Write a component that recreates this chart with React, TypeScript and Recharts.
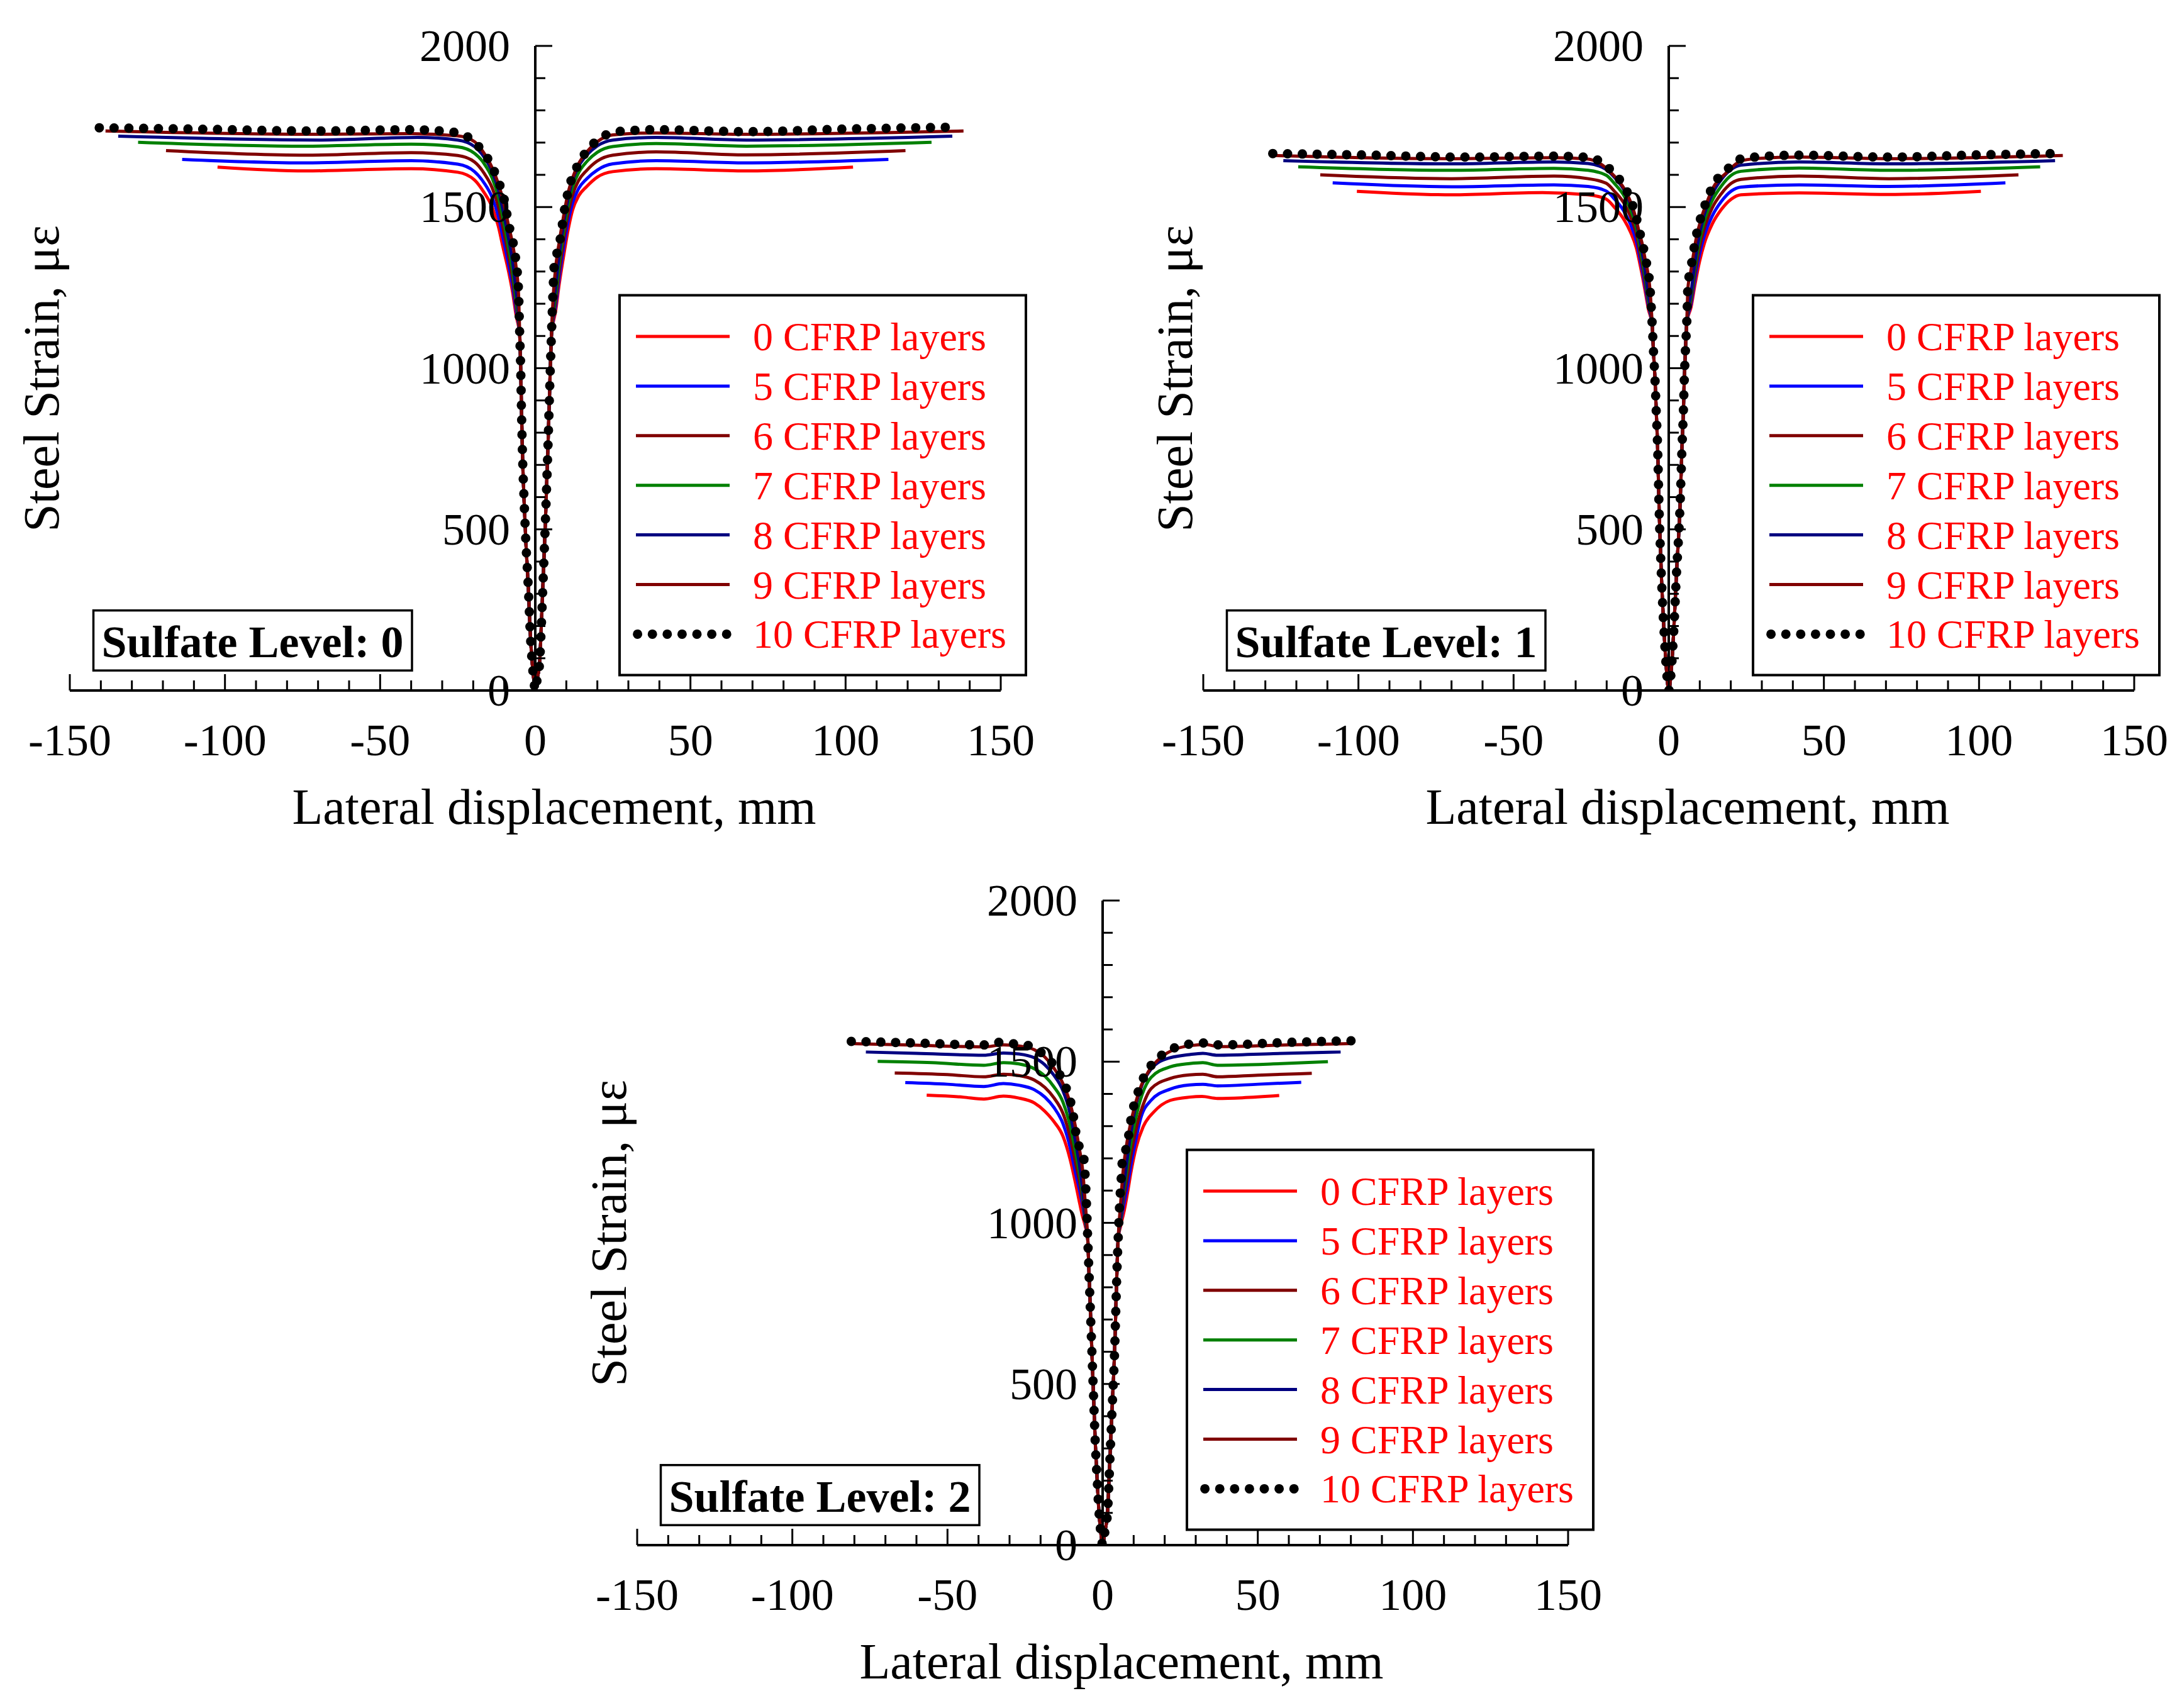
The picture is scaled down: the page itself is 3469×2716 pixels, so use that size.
import { Line, LineChart, ReferenceLine, XAxis, YAxis } from 'recharts'

type Pt = [number, number]

const FONT = "'Liberation Serif', 'Times New Roman', serif"

const LAYERS = ['0', '5', '6', '7', '8', '9', '10']
const LAYER_COLORS = ['#ff0000', '#0000ff', '#800000', '#008000', '#000080', '#800000', '#000000']

const X_TICKS = [
  -150, -140, -130, -120, -110, -100, -90, -80, -70, -60, -50, -40, -30, -20, -10, 0,
  10, 20, 30, 40, 50, 60, 70, 80, 90, 100, 110, 120, 130, 140, 150
]
const Y_TICKS = [
  0, 100, 200, 300, 400, 500, 600, 700, 800, 900, 1000, 1100, 1200, 1300, 1400, 1500,
  1600, 1700, 1800, 1900, 2000
]

// ---- Sulfate level 0 ----
const SL0_STEEP: Pt[] = [
  [-5.0, 1100], [-4.7, 1000], [-4.45, 870], [-4.1, 725], [-3.6, 590], [-3.0, 455], [-2.2, 310],
  [-1.6, 176], [-1.0, 86], [-0.5, 35], [0, 0], [0.6, 35], [1.4, 86], [1.9, 190], [2.4, 310],
  [3.3, 535], [4.1, 760], [4.8, 985], [5.2, 1100]
]
const SL0_L0: Pt[] = [
  [-102.4, 1624], [-74, 1612], [-40, 1619], [-25, 1608], [-19.6, 1584], [-16.5, 1545], [-13.9, 1500],
  [-11.9, 1440], [-10.4, 1375], [-8.6, 1300], [-7.3, 1235], [-6.2, 1165],
  [6.6, 1180], [7.7, 1260], [9, 1340], [10.6, 1430], [12, 1490], [14, 1535], [16.5, 1563],
  [20, 1593], [25, 1610], [39, 1619], [68, 1612], [102.4, 1624]
]
const SL0_L5: Pt[] = [
  [-113.8, 1648], [-74, 1637], [-40, 1644], [-25, 1633], [-19.6, 1610], [-16.5, 1575], [-13.9, 1530],
  [-11.9, 1472], [-10.4, 1405], [-8.6, 1322], [-7.3, 1255], [-6.2, 1180],
  [6.6, 1195], [7.7, 1280], [9, 1365], [10.6, 1455], [12, 1512], [14, 1558], [16.5, 1587],
  [20, 1615], [25, 1634], [39, 1644], [68, 1637], [113.8, 1648]
]
const SL0_L6: Pt[] = [
  [-119, 1675], [-74, 1661], [-40, 1669], [-25, 1660], [-19.6, 1640], [-16.5, 1605], [-13.9, 1560],
  [-11.9, 1502], [-10.4, 1435], [-8.6, 1348], [-7.3, 1278], [-6.2, 1195],
  [6.6, 1210], [7.7, 1300], [9, 1390], [10.6, 1480], [12, 1537], [14, 1583], [16.5, 1613],
  [20, 1643], [25, 1661], [39, 1671], [68, 1662], [119.3, 1675]
]
const SL0_L7: Pt[] = [
  [-128, 1701], [-74, 1689], [-40, 1695], [-25, 1687], [-19.6, 1667], [-16.5, 1635], [-13.9, 1590],
  [-11.9, 1532], [-10.4, 1465], [-8.6, 1375], [-7.3, 1302], [-6.2, 1212],
  [6.6, 1228], [7.7, 1325], [9, 1415], [10.6, 1505], [12, 1562], [14, 1607], [16.5, 1640],
  [20, 1670], [25, 1688], [39, 1697], [68, 1689], [127.7, 1701]
]
const SL0_L8: Pt[] = [
  [-134.4, 1720], [-69, 1708], [-38, 1716], [-25, 1708], [-19.6, 1688], [-16.5, 1655], [-13.9, 1610],
  [-11.9, 1555], [-10.4, 1490], [-8.6, 1402], [-7.3, 1330], [-6.2, 1240],
  [6.6, 1255], [7.7, 1350], [9, 1440], [10.6, 1527], [12, 1582], [14, 1627], [16.5, 1660],
  [20, 1690], [25, 1708], [39, 1716], [68, 1708], [134.4, 1720]
]
const SL0_L9: Pt[] = [
  [-138.5, 1736], [-70, 1726], [-40, 1728], [-25, 1721], [-19.6, 1703], [-16.5, 1667], [-13.9, 1622],
  [-11.9, 1572], [-10.4, 1522], [-8.6, 1442], [-7.3, 1385], [-6.2, 1315], [-5.4, 1230],
  [5.8, 1225], [6.6, 1315], [7.7, 1390], [9, 1465], [10.6, 1545], [12, 1590], [14, 1635],
  [16.5, 1670], [20, 1703], [25, 1724], [39, 1730], [68, 1726], [138, 1736]
]
const SL0_L10: Pt[] = [
  [-140.5, 1746], [-110, 1742], [-70, 1736], [-40, 1740], [-26, 1732], [-21.5, 1716], [-17, 1673],
  [-14, 1628], [-12, 1581], [-10.3, 1536], [-9.4, 1493], [-8.6, 1448], [-7.3, 1398], [-6.2, 1330],
  [-5.4, 1240],
  [5.7, 1235], [6.1, 1319], [6.9, 1353], [8.0, 1399], [8.7, 1444], [9.4, 1491], [10.3, 1536],
  [11.5, 1581], [13.6, 1628], [16.7, 1675], [21.3, 1716], [27.3, 1735], [39, 1740], [68.4, 1734],
  [100, 1742], [135.6, 1748]
]

// ---- Sulfate level 1 ----
const SL1_STEEP: Pt[] = [
  [-5.3, 1130], [-4.9, 1050], [-4.4, 960], [-4.0, 860], [-3.6, 761], [-3.1, 562], [-2.4, 363],
  [-1.4, 164], [-0.7, 60], [0, 0], [0.8, 60], [1.5, 164], [2.5, 363], [3.6, 562], [4.3, 761],
  [4.7, 860], [5.0, 960], [5.4, 1060], [5.8, 1140]
]
const SL1_L0: Pt[] = [
  [-100.5, 1549], [-70, 1538], [-40.7, 1545], [-26, 1538], [-20.2, 1525], [-17.4, 1498], [-14.3, 1459],
  [-12.3, 1422], [-10.4, 1372], [-9, 1310], [-7.7, 1245], [-6.6, 1185],
  [7.2, 1190], [8.5, 1262], [9.9, 1330], [11.5, 1388], [14, 1447], [17, 1493], [20.2, 1525],
  [23.3, 1538], [42, 1544], [70.9, 1539], [100.6, 1549]
]
const SL1_L5: Pt[] = [
  [-108.3, 1575], [-70, 1563], [-37, 1569], [-26, 1564], [-20.2, 1550], [-17.4, 1524], [-14.3, 1485],
  [-12.3, 1446], [-10.4, 1393], [-9, 1328], [-7.7, 1260], [-6.6, 1195],
  [7.2, 1200], [8.5, 1280], [9.9, 1352], [11.5, 1412], [14, 1472], [17, 1518], [20.2, 1550],
  [23.3, 1562], [42, 1569], [70.9, 1564], [108.5, 1575]
]
const SL1_L6: Pt[] = [
  [-112.3, 1600], [-70, 1588], [-37, 1596], [-26, 1588], [-20.2, 1574], [-17.4, 1548], [-14.3, 1510],
  [-12.3, 1470], [-10.4, 1414], [-9, 1345], [-7.7, 1275], [-6.6, 1205],
  [7.2, 1210], [8.5, 1297], [9.9, 1373], [11.5, 1435], [14, 1497], [17, 1542], [20.2, 1574],
  [23.3, 1586], [42, 1596], [70.9, 1588], [112.7, 1600]
]
const SL1_L7: Pt[] = [
  [-119.4, 1625], [-70, 1614], [-37, 1620], [-26, 1614], [-20.2, 1599], [-17.4, 1572], [-14.3, 1533],
  [-12.3, 1492], [-10.4, 1434], [-9, 1363], [-7.7, 1290], [-6.6, 1215],
  [7.2, 1222], [8.5, 1315], [9.9, 1395], [11.5, 1458], [14, 1520], [17, 1566], [20.2, 1599],
  [23.3, 1611], [42, 1621], [70.9, 1614], [119.7, 1625]
]
const SL1_L8: Pt[] = [
  [-124.2, 1644], [-70, 1634], [-37, 1640], [-26, 1635], [-20.2, 1617], [-17.4, 1591], [-14.3, 1551],
  [-12.3, 1508], [-10.4, 1452], [-9, 1383], [-7.7, 1308], [-6.6, 1228],
  [7.2, 1235], [8.5, 1332], [9.9, 1415], [11.5, 1478], [14, 1540], [17, 1586], [20.2, 1617],
  [23.3, 1630], [42, 1640], [70.9, 1634], [124.5, 1644]
]
const SL1_L9: Pt[] = [
  [-127, 1660], [-70, 1650], [-37, 1653], [-26, 1649], [-22.7, 1638], [-18.2, 1603], [-14.3, 1556],
  [-12.1, 1511], [-10.6, 1466], [-9.5, 1420], [-8.6, 1388], [-7.5, 1333], [-6.8, 1300], [-6.1, 1250],
  [6.2, 1250], [7.1, 1300], [8.8, 1400], [10.5, 1466], [12.2, 1512], [14.3, 1560], [18.4, 1605],
  [23.1, 1642], [27.8, 1650], [42, 1655], [70.9, 1650], [127, 1660]
]
const SL1_L10: Pt[] = [
  [-127.6, 1666], [-100, 1662], [-65.8, 1655], [-37.2, 1658], [-27.5, 1655], [-22.7, 1645], [-18.2, 1610],
  [-14.3, 1563], [-12.1, 1518], [-10.6, 1473], [-9.5, 1427], [-8.6, 1395], [-7.5, 1340], [-6.8, 1309],
  [-6.1, 1258],
  [6.2, 1258], [7.1, 1309], [8.8, 1408], [10.5, 1473], [12.2, 1519], [14.3, 1567], [18.4, 1612],
  [23.1, 1649], [27.8, 1655], [42, 1661], [70.9, 1655], [100, 1662], [123, 1666]
]

// ---- Sulfate level 2 ----
const SL2_STEEP: Pt[] = [
  [-4.8, 950], [-4.4, 847], [-3.9, 715], [-3.4, 585], [-2.9, 455], [-2.4, 324], [-1.8, 210],
  [-1.2, 105], [-0.6, 40], [0, 0], [0.7, 40], [1.6, 105], [2.1, 210], [2.6, 324], [3.2, 455],
  [3.8, 585], [4.2, 715], [4.6, 847], [5.0, 950]
]
const SL2_L0: Pt[] = [
  [-56.7, 1396], [-45, 1390], [-38.3, 1384], [-32, 1393], [-27, 1387], [-22, 1372], [-18.6, 1346],
  [-15.7, 1314], [-12.8, 1269], [-10.5, 1198], [-8.8, 1126], [-7.6, 1070], [-6.6, 1025], [-5.6, 990],
  [5.8, 990], [7, 1040], [8.1, 1098], [9.1, 1156], [10.8, 1234], [13.1, 1299], [16.5, 1344],
  [21.8, 1380], [28, 1390], [32, 1392], [37, 1386], [45, 1388], [56.9, 1395]
]
const SL2_L5: Pt[] = [
  [-63.6, 1435], [-50, 1430], [-38.3, 1423], [-32, 1432], [-27, 1427], [-22, 1413], [-18.6, 1390],
  [-15.7, 1358], [-12.8, 1308], [-10.5, 1235], [-8.8, 1158], [-7.4, 1100], [-6.3, 1045], [-5.6, 1000],
  [5.8, 1000], [6.7, 1050], [8, 1115], [9.5, 1200], [10.8, 1262], [12.2, 1322], [15.6, 1380],
  [21.8, 1415], [28, 1428], [32.3, 1430], [37, 1425], [50, 1430], [64, 1436]
]
const SL2_L6: Pt[] = [
  [-67, 1465], [-50, 1460], [-38.3, 1453], [-32, 1461], [-27, 1457], [-22, 1443], [-18.6, 1420],
  [-15.7, 1388], [-12.8, 1340], [-10.5, 1268], [-8.8, 1190], [-7.4, 1125], [-6.3, 1060], [-5.6, 1005],
  [5.8, 1005], [6.6, 1065], [7.8, 1130], [9.3, 1220], [11, 1300], [13, 1365], [15.6, 1416],
  [21.8, 1448], [28, 1459], [32.3, 1461], [37, 1453], [50, 1458], [67.4, 1464]
]
const SL2_L7: Pt[] = [
  [-72.5, 1501], [-55, 1497], [-38.3, 1489], [-32, 1497], [-27, 1493], [-22, 1478], [-18.6, 1455],
  [-15.7, 1422], [-12.8, 1375], [-10.5, 1302], [-8.8, 1222], [-7.4, 1150], [-6.3, 1075], [-5.6, 1010],
  [5.8, 1010], [6.5, 1075], [7.3, 1130], [9, 1240], [10.8, 1330], [12.8, 1400], [15.6, 1451],
  [21.8, 1484], [28, 1494], [32.3, 1497], [37, 1489], [55, 1493], [72.6, 1500]
]
const SL2_L8: Pt[] = [
  [-76.3, 1530], [-60, 1526], [-38.3, 1520], [-32, 1527], [-27, 1524], [-22, 1512], [-18.6, 1490],
  [-15.7, 1458], [-12.8, 1410], [-10.5, 1340], [-8.8, 1255], [-7.4, 1175], [-6.3, 1090], [-5.6, 1020],
  [5.8, 1020], [6.5, 1090], [7.3, 1150], [8.8, 1260], [10.6, 1360], [12.8, 1430], [15.6, 1477],
  [20, 1507], [28, 1522], [32.3, 1526], [37, 1520], [55, 1525], [76.7, 1530]
]
const SL2_L9: Pt[] = [
  [-81, 1556], [-60, 1551], [-38.3, 1546], [-32, 1552], [-27, 1549], [-22, 1537], [-18.6, 1514],
  [-15.7, 1480], [-12.8, 1432], [-10.5, 1372], [-8.8, 1300], [-7.5, 1230], [-6.4, 1160], [-5.6, 1060],
  [5.8, 1060], [6.6, 1160], [7.6, 1235], [9.4, 1325], [10.7, 1375], [12.2, 1420], [14.8, 1470],
  [19, 1515], [23.7, 1540], [28.4, 1550], [33, 1553], [37.5, 1547], [60, 1552], [79.7, 1556]
]
const SL2_L10: Pt[] = [
  [-81, 1563], [-60, 1558], [-38.3, 1552], [-33.6, 1560], [-29, 1556], [-24.3, 1551], [-19.4, 1525],
  [-15.3, 1483], [-12.5, 1434], [-10.7, 1389], [-9.6, 1343], [-8.8, 1290], [-8.0, 1250], [-6.3, 1215],
  [-5.8, 1171], [-5.3, 1080],
  [5.6, 1080], [6.1, 1155], [6.4, 1201], [7.2, 1220], [8.0, 1247], [8.7, 1292], [9.4, 1337],
  [10.7, 1383], [12.2, 1428], [14.8, 1477], [19, 1520], [23.7, 1545], [28.4, 1555], [33, 1558],
  [37.5, 1552], [60, 1560], [80.7, 1565]
]

// layout (px)
const PLOT_W = 1480
const PLOT_H = 1025
const M_LEFT = 130
const M_TOP = 73
const M_RIGHT = 60
const M_BOTTOM = 250
const X_AXIS_H = 30
const Y_AXIS_W = 30
const CHART_W = M_LEFT + PLOT_W + M_RIGHT
const CHART_H = M_TOP + PLOT_H + M_BOTTOM
const X_ZERO = M_LEFT + PLOT_W / 2
const AXIS_Y = M_TOP + PLOT_H

const PANELS = [
  { left: -19, top: 0, level: '0', steep: SL0_STEEP, series: [SL0_L0, SL0_L5, SL0_L6, SL0_L7, SL0_L8, SL0_L9, SL0_L10] },
  { left: 1783, top: 0, level: '1', steep: SL1_STEEP, series: [SL1_L0, SL1_L5, SL1_L6, SL1_L7, SL1_L8, SL1_L9, SL1_L10] },
  { left: 883, top: 1359, level: '2', steep: SL2_STEEP, series: [SL2_L0, SL2_L5, SL2_L6, SL2_L7, SL2_L8, SL2_L9, SL2_L10] }
]

const toData = (steep: Pt[], pts: Pt[]) =>
  [...pts, ...steep].sort((a, b) => a[0] - b[0]).map(([x, y]) => ({ x, y }))

const XTick = (props: any) => {
  const { x, payload } = props
  const v = payload.value
  const major = v % 50 === 0
  return (
    <g>
      <line x1={x} x2={x} y1={AXIS_Y} y2={AXIS_Y - (major ? 26 : 16)} stroke="#000" strokeWidth={3} />
      {major && (
        <text x={x} y={AXIS_Y + 103} textAnchor="middle" fontSize={72} fontFamily={FONT} fill="#000">
          {v}
        </text>
      )}
    </g>
  )
}

const YTick = (props: any) => {
  const { y, payload } = props
  const v = payload.value
  const major = v % 500 === 0
  return (
    <g>
      <line x1={X_ZERO} x2={X_ZERO + (major ? 27 : 16)} y1={y} y2={y} stroke="#000" strokeWidth={3} />
      {major && (
        <text x={X_ZERO - 40} y={y + 24} textAnchor="end" fontSize={72} fontFamily={FONT} fill="#000">
          {v}
        </text>
      )}
    </g>
  )
}

const LEG_X = M_LEFT + 874
const LEG_Y = M_TOP + 396.5
const LEG_ROW = 78.9

const Overlay = ({ level }: { level: string }) => (
  <svg
    width={CHART_W}
    height={CHART_H}
    style={{ position: 'absolute', left: 0, top: 0, pointerEvents: 'none' }}
  >
    <rect x={LEG_X} y={LEG_Y} width={646} height={604} fill="#fff" stroke="#000" strokeWidth={4} />
    {LAYERS.map((layer, i) => {
      const ly = LEG_Y + 65.5 + i * LEG_ROW
      const dotted = layer === '10'
      return (
        <g key={layer}>
          {dotted ? (
            <line
              x1={LEG_X + 28.6}
              x2={LEG_X + 171}
              y1={ly}
              y2={ly}
              stroke="#000"
              strokeWidth={15}
              strokeDasharray="0 23.6"
              strokeLinecap="round"
            />
          ) : (
            <line x1={LEG_X + 26} x2={LEG_X + 175} y1={ly} y2={ly} stroke={LAYER_COLORS[i]} strokeWidth={5} />
          )}
          <text x={LEG_X + 212} y={ly + 22} fontSize={64} fontFamily={FONT} fill="#ff0000">
            {`${layer} CFRP layers`}
          </text>
        </g>
      )
    })}
    <rect x={M_LEFT + 37.5} y={M_TOP + 897.7} width={506.5} height={95.5} fill="#fff" stroke="#000" strokeWidth={3.5} />
    <text
      x={M_LEFT + 37.5 + 253}
      y={M_TOP + 897.7 + 74}
      textAnchor="middle"
      fontSize={72}
      fontWeight="bold"
      fontFamily={FONT}
      fill="#000"
    >
      {`Sulfate Level: ${level}`}
    </text>
    <text x={X_ZERO + 30} y={AXIS_Y + 212} textAnchor="middle" fontSize={80} fontFamily={FONT} fill="#000">
      Lateral displacement, mm
    </text>
    <text
      x={M_LEFT - 18}
      y={M_TOP + 529}
      transform={`rotate(-90 ${M_LEFT - 18} ${M_TOP + 529})`}
      textAnchor="middle"
      fontSize={80}
      fontFamily={FONT}
      fill="#000"
    >
      Steel Strain, με
    </text>
  </svg>
)

const Panel = ({ left, top, level, steep, series }: { left: number; top: number; level: string; steep: Pt[]; series: Pt[][] }) => (
  <div style={{ position: 'absolute', left, top, width: CHART_W, height: CHART_H }}>
    <LineChart
      width={CHART_W}
      height={CHART_H}
      margin={{ top: M_TOP, right: M_RIGHT, bottom: M_BOTTOM - X_AXIS_H, left: M_LEFT - Y_AXIS_W }}
    >
      <XAxis
        type="number"
        dataKey="x"
        domain={[-150, 150]}
        ticks={X_TICKS}
        interval={0}
        height={X_AXIS_H}
        tickLine={false}
        axisLine={{ stroke: '#000', strokeWidth: 4 }}
        tick={(p: any) => <XTick {...p} />}
        allowDataOverflow
      />
      <YAxis
        type="number"
        dataKey="y"
        domain={[0, 2000]}
        ticks={Y_TICKS}
        interval={0}
        width={Y_AXIS_W}
        tickLine={false}
        axisLine={false}
        tick={(p: any) => <YTick {...p} />}
        allowDataOverflow
      />
      <ReferenceLine x={0} stroke="#000" strokeWidth={4} />
      {series.map((pts, i) => {
        const dotted = LAYERS[i] === '10'
        return (
          <Line
            key={LAYERS[i]}
            name={`${LAYERS[i]} CFRP layers`}
            data={toData(steep, pts)}
            dataKey="y"
            type="monotone"
            stroke={LAYER_COLORS[i]}
            strokeWidth={dotted ? 15 : 5}
            strokeDasharray={dotted ? '0 23.5' : undefined}
            strokeLinecap={dotted ? 'round' : 'butt'}
            dot={false}
            activeDot={false}
            isAnimationActive={false}
          />
        )
      })}
    </LineChart>
    <Overlay level={level} />
  </div>
)

export default function App() {
  return (
    <div
      style={{
        position: 'absolute',
        left: 0,
        top: 0,
        width: 3469,
        height: 2716,
        overflow: 'hidden',
        background: '#fff'
      }}
    >
      {PANELS.map((p) => (
        <Panel key={p.level} {...p} />
      ))}
    </div>
  )
}
